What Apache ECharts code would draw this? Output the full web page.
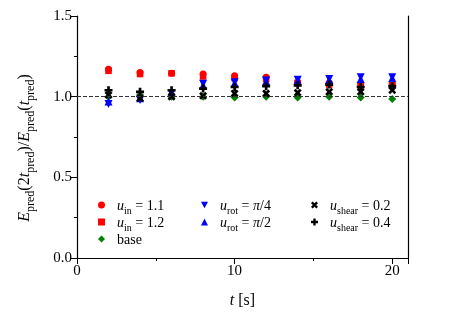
<!DOCTYPE html>
<html>
<head>
<meta charset="utf-8">
<script src="https://cdn.jsdelivr.net/npm/echarts@6/dist/echarts.min.js"></script>
<style>
  html, body { margin: 0; padding: 0; background: #fff; }
  #chart { width: 458px; height: 322px; }
</style>
</head>
<body>
<div id="chart"></div>
<script>
// prediction times
var tPred = [2, 4, 6, 8, 10, 12, 14, 16, 18, 20];

// energy ratio per case
var uIn11 = [1.17, 1.15, 1.145, 1.14, 1.13, 1.12, 1.09, 1.085, 1.08, 1.08];
var uIn12 = [1.16, 1.14, 1.145, 1.125, 1.115, 1.11, 1.085, 1.075, 1.07, 1.07];
var base = [1.0, 1.01, 1.0, 1.0, 0.995, 1.0, 0.995, 1.0, 0.995, 0.985];
var uRot4 = [0.955, 0.98, 1.02, 1.08, 1.09, 1.1, 1.105, 1.11, 1.12, 1.12];
var uRot2 = [0.97, 0.99, 1.03, 1.07, 1.085, 1.095, 1.1, 1.105, 1.11, 1.115];
var uShear02 = [1.01, 0.99, 1.0, 1.005, 1.02, 1.02, 1.025, 1.03, 1.03, 1.04];
var uShear04 = [1.04, 1.03, 1.04, 1.05, 1.06, 1.065, 1.07, 1.075, 1.06, 1.065];

var yTicks = [0, 0.5, 1.0, 1.5];
var refLevel = 1.0;

var serif = "Liberation Serif";

var plusPath = "path://M-1,-3L1,-3L1,-1L3,-1L3,1L1,1L1,3L-1,3L-1,1L-3,1L-3,-1L-1,-1Z";
var xPath = "path://M-3,-1.6L-1.6,-3L0,-1.4L1.6,-3L3,-1.6L1.4,0L3,1.6L1.6,3L0,1.4L-1.6,3L-3,1.6L-1.4,0Z";
var downTri = "path://M0,0L2,0L1,1.8Z";

var labels = {
  in11: "{i|u}{s|in}{n| = 1.1}",
  in12: "{i|u}{s|in}{n| = 1.2}",
  base: "{n|base}",
  rot4: "{i|u}{s|rot}{n| = }{i|π}{n|/4}",
  rot2: "{i|u}{s|rot}{n| = }{i|π}{n|/2}",
  sh02: "{i|u}{s|shear}{n| = 0.2}",
  sh04: "{i|u}{s|shear}{n| = 0.4}"
};

var rich = {
  n: { fontFamily: serif, fontSize: 14, color: "#000", lineHeight: 16, verticalAlign: "bottom" },
  i: { fontFamily: serif, fontSize: 14, fontStyle: "italic", color: "#000", lineHeight: 16, verticalAlign: "bottom" },
  s: { fontFamily: serif, fontSize: 10, color: "#000", lineHeight: 12, verticalAlign: "bottom", padding: [0, 0, -3, 0] }
};

var richBig = {
  n: { fontFamily: serif, fontSize: 16, color: "#000", lineHeight: 18, verticalAlign: "bottom" },
  i: { fontFamily: serif, fontSize: 16, fontStyle: "italic", color: "#000", lineHeight: 18, verticalAlign: "bottom" },
  s: { fontFamily: serif, fontSize: 12, color: "#000", lineHeight: 13, verticalAlign: "bottom", padding: [0, 0, -4, 0] }
};

function pts(vals) {
  return tPred.map(function (t, k) { return [t, vals[k]]; });
}

function mkSeries(name, vals, color, symbol, size) {
  return {
    name: name,
    type: "scatter",
    data: pts(vals),
    symbol: symbol,
    symbolSize: size,
    itemStyle: { color: color, opacity: 1 },
    silent: true
  };
}

function mkLegend(left, names) {
  return {
    left: left,
    top: 194,
    orient: "vertical",
    itemWidth: 7,
    itemHeight: 7,
    itemGap: 0,
    data: names,
    formatter: function (nm) { return labels[nm]; },
    textStyle: { rich: rich, padding: [0, 0, 0, 7] },
    selectedMode: false
  };
}

var chart = echarts.init(document.getElementById("chart"));

var series = [
  mkSeries("in11", uIn11, "red", "circle", 7),
  mkSeries("in12", uIn12, "red", "rect", 6.5),
  mkSeries("base", base, "green", "diamond", 8),
  mkSeries("rot4", uRot4, "blue", downTri, 8),
  mkSeries("rot2", uRot2, "blue", "triangle", 8),
  mkSeries("sh02", uShear02, "#000", xPath, 8),
  mkSeries("sh04", uShear04, "#000", plusPath, 8)
];

series[0].markLine = {
  silent: true,
  symbol: "none",
  label: { show: false },
  lineStyle: { color: "#333", type: [4, 2], width: 1 },
  data: [{ yAxis: refLevel }]
};
series[0].z = 1;

var option = {
  animation: false,
  backgroundColor: "#fff",
  grid: { left: 77, right: 50, top: 16, bottom: 64 },
  legend: [
    mkLegend(93, ["in11", "in12", "base"]),
    mkLegend(196, ["rot4", "rot2"]),
    mkLegend(306, ["sh02", "sh04"])
  ],
  xAxis: {
    type: "value",
    min: 0,
    max: 21,
    interval: 10,
    name: "{i|t}{n| [s]}",
    nameLocation: "middle",
    nameGap: 33,
    nameTextStyle: { rich: richBig },
    axisLine: { onZero: false, lineStyle: { color: "#000", width: 1.2 } },
    axisTick: { length: 6, lineStyle: { color: "#000" } },
    minorTick: { show: true, splitNumber: 2, length: 3, lineStyle: { color: "#000" } },
    axisLabel: {
      fontFamily: serif, fontSize: 15, color: "#000", margin: 6,
      formatter: function (v) { return v % 10 === 0 && v <= 20 ? String(v) : ""; }
    },
    splitLine: { show: false }
  },
  yAxis: [
    {
      type: "value",
      min: yTicks[0],
      max: yTicks[yTicks.length - 1],
      interval: 0.5,
      name: "{i|E}{s|pred}{n|(2}{i|t}{s|pred}{n|)/}{i|E}{s|pred}{n|(}{i|t}{s|pred}{n|)}",
      nameLocation: "middle",
      nameGap: 44,
      nameRotate: 90,
      nameTextStyle: { rich: richBig, padding: [0, 22, 0, 0] },
      axisLine: { show: true, lineStyle: { color: "#000", width: 1.2 } },
      axisTick: { length: 6, lineStyle: { color: "#000" } },
      minorTick: { show: true, splitNumber: 2, length: 3, lineStyle: { color: "#000" } },
      axisLabel: {
        fontFamily: serif, fontSize: 15, color: "#000", margin: 5,
        formatter: function (v) { return v.toFixed(1); }
      },
      splitLine: { show: false }
    },
    {
      type: "value",
      position: "right",
      min: 0,
      max: 1.5,
      axisLine: { show: true, lineStyle: { color: "#000", width: 1.2 } },
      axisTick: { show: false },
      axisLabel: { show: false },
      splitLine: { show: false }
    }
  ],
  series: series
};

chart.setOption(option);
</script>
</body>
</html>
